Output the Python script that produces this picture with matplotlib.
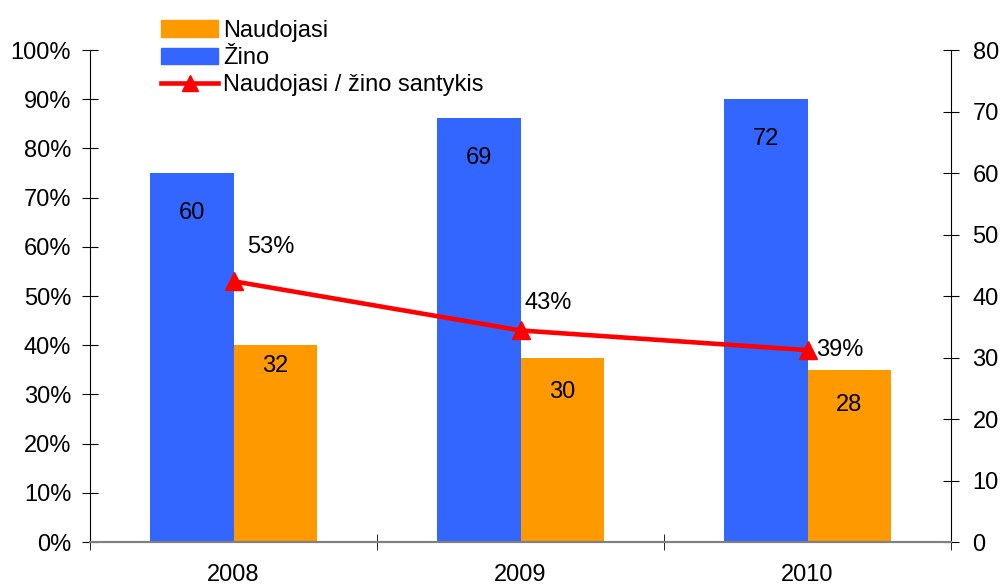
import numpy as np
import matplotlib.pyplot as plt
from matplotlib.patches import Patch
from matplotlib.lines import Line2D

plt.rcParams['font.family'] = ['Liberation Sans', 'DejaVu Sans']

metai = ["2008", "2009", "2010"]
zino = [60, 69, 72]
naudojasi = [32, 30, 28]
santykis = [53, 43, 39]  # %

MELYNA = "#3366FF"
ORANZ = "#FF9900"
RAUDONA = "#FF0000"
FS = 17

fig = plt.figure(figsize=(10, 5.85), dpi=100)
ax = fig.add_axes([0.09, 0.0735, 0.861, 0.841])
ax2 = ax.twinx()

x = np.arange(len(metai))
w = 0.29

# stulpeliai - desine asis
ax2.bar(x - w / 2, zino, w, color=MELYNA)
ax2.bar(x + w / 2, naudojasi, w, color=ORANZ)
for xi, v in zip(x, zino):
    ax2.annotate(str(v), (xi - w / 2, v), xytext=(0, -29), textcoords="offset points",
                 ha="center", va="center", fontsize=FS)
for i, (xi, v) in enumerate(zip(x, naudojasi)):
    dy = -15 if i == 0 else -25
    ax2.annotate(str(v), (xi + w / 2, v), xytext=(0, dy), textcoords="offset points",
                 ha="center", va="center", fontsize=FS)

# linija - kaire asis
ax.set_zorder(ax2.get_zorder() + 1)
ax.patch.set_visible(False)
ax.plot(x, santykis, color=RAUDONA, lw=3.3, marker="^", ms=13, clip_on=False)
poslinkiai = [(27, 25), (20, 20), (23, 0)]
for xi, v, (dx, dy) in zip(x, santykis, poslinkiai):
    ax.annotate(f"{v}%", (xi, v), xytext=(dx, dy), textcoords="offset points",
                ha="center", va="center", fontsize=FS)

ax.set_xlim(-0.5, 2.5)
ax.set_ylim(0, 100)
ax2.set_ylim(0, 80)
ax.set_yticks(np.arange(0, 101, 10))
ax.set_yticklabels([f"{t}%" for t in range(0, 101, 10)])
ax2.set_yticks(np.arange(0, 81, 10))
ax.set_xticks(x)
ax.set_xticklabels(metai)
ax.set_xticks([-0.5, 0.5, 1.5, 2.5], minor=True)

for a in (ax, ax2):
    a.spines["top"].set_visible(False)
    a.spines["bottom"].set_color("#808080")
    a.spines["bottom"].set_linewidth(1.5)
ax2.spines["left"].set_visible(False)
ax.spines["right"].set_visible(False)

ax.tick_params(axis="x", which="major", length=0, labelsize=FS, pad=16)
ax.tick_params(axis="x", which="minor", length=12, direction="inout")
ax.tick_params(axis="y", labelsize=FS, direction="inout", length=11, pad=8)
ax2.tick_params(axis="y", labelsize=FS, direction="inout", length=11, pad=10)
ax2.tick_params(axis="x", length=0)

rankenos = [
    Patch(color=ORANZ, label="Naudojasi"),
    Patch(color=MELYNA, label="Žino"),
    Line2D([], [], color=RAUDONA, lw=3.3, marker="^", ms=11, label="Naudojasi / žino santykis"),
]
fig.legend(handles=rankenos, loc="upper left", bbox_to_anchor=(0.152, 0.982),
           frameon=False, fontsize=FS, handlelength=2.4, handletextpad=0.2,
           labelspacing=0.22, borderaxespad=0)

fig.savefig("out.png", dpi=100)
